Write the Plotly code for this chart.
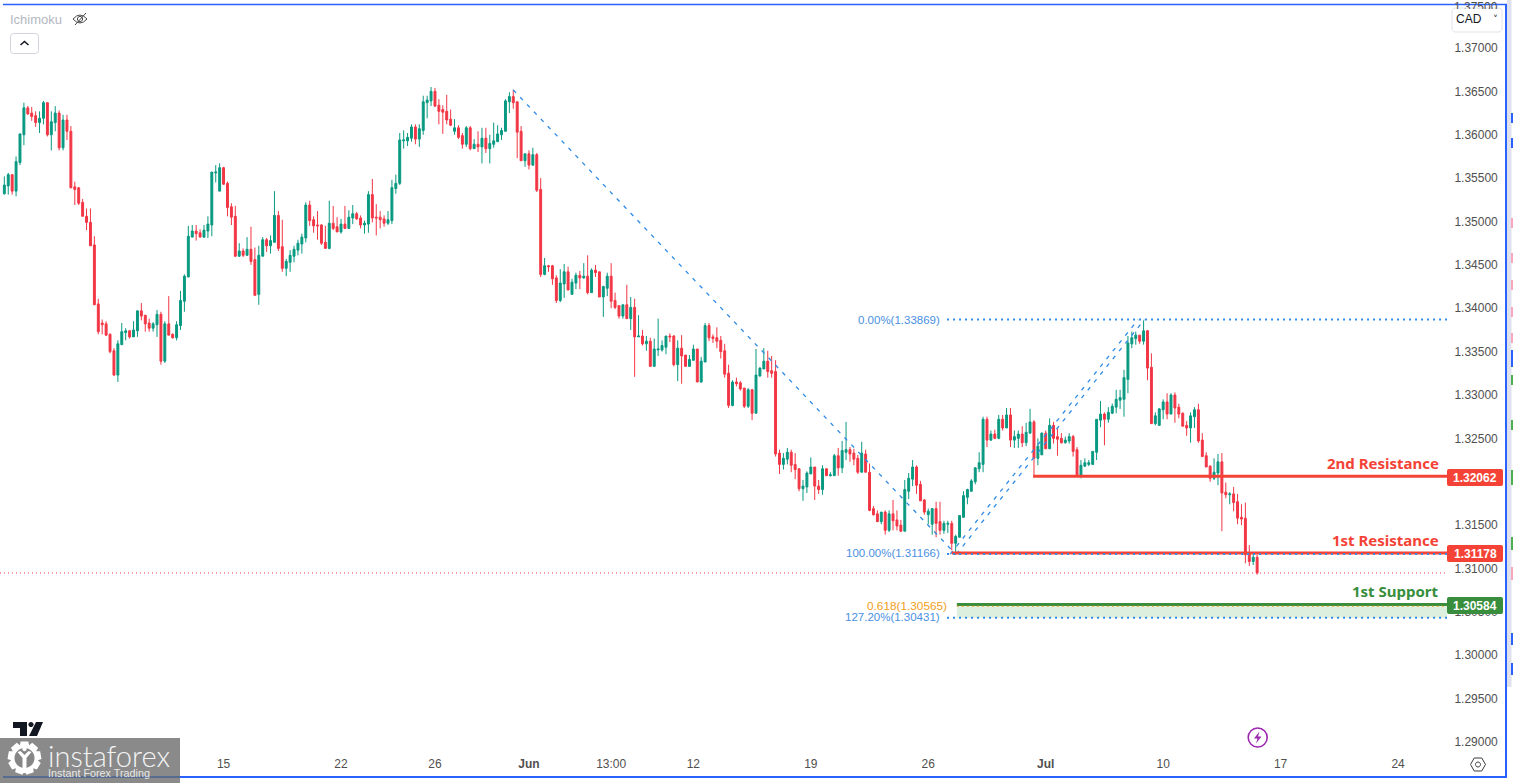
import math
import numpy as np
import plotly.graph_objects as go

# USD/CAD 4H candles, prices in 1/10000 of a CAD
highs = [
13552,13556,13554,13575,13601,13637,13633,13632,13627,13627,
13639,13637,13627,13633,13628,13623,13623,13610,13546,13539,
13526,13515,13515,13483,13411,13387,13385,13371,13354,13363,
13383,13377,13375,13385,13397,13406,13392,13388,13384,13398,
13396,13385,13414,13371,13385,13420,13439,13495,13496,13496,
13491,13496,13506,13557,13565,13567,13563,13546,13521,13518,
13475,13469,13482,13494,13470,13472,13482,13481,13484,13535,
13512,13502,13457,13467,13472,13479,13486,13522,13524,13506,
13512,13497,13495,13524,13518,13505,13503,13518,13513,13519,
13511,13507,13501,13535,13549,13520,13512,13507,13512,13548,
13554,13602,13605,13602,13612,13612,13612,13645,13645,13655,
13654,13641,13634,13646,13629,13618,13611,13602,13610,13610,
13595,13604,13608,13608,13600,13614,13611,13608,13641,13649,
13652,13638,13610,13578,13582,13585,13579,13550,13458,13450,
13450,13438,13445,13451,13448,13434,13441,13443,13452,13461,
13446,13450,13442,13426,13441,13452,13418,13403,13404,13427,
13413,13411,13392,13375,13368,13366,13365,13388,13363,13368,
13371,13369,13363,13369,13346,13346,13358,13353,13344,13383,
13383,13370,13378,13368,13359,13335,13317,13320,13316,13308,
13308,13307,13353,13332,13354,13351,13345,13340,13237,13233,
13239,13237,13233,13215,13202,13212,13228,13217,13202,13219,
13215,13211,13232,13239,13247,13269,13240,13238,13231,13246,
13237,13221,13172,13167,13165,13167,13167,13179,13167,13156,
13202,13210,13225,13219,13201,13180,13169,13169,13177,13177,
13155,13155,13155,13139,13161,13189,13192,13203,13217,13234,
13275,13275,13259,13260,13277,13277,13285,13285,13259,13259,
13264,13268,13284,13271,13250,13257,13259,13273,13269,13262,
13256,13252,13256,13254,13240,13225,13227,13225,13235,13272,
13293,13280,13286,13290,13306,13306,13329,13368,13373,13373,
13369,13386,13375,13348,13280,13285,13295,13302,13302,13303,
13290,13280,13270,13280,13286,13290,13256,13234,13219,13227,
13232,13233,13199,13188,13194,13186,13174,13176,13127,13116,
13116]
body_tops = [
13542,13554,13554,13569,13601,13631,13631,13625,13622,13619,
13637,13637,13615,13625,13625,13617,13617,13604,13540,13539,
13522,13506,13499,13473,13405,13383,13382,13370,13351,13359,
13373,13374,13374,13375,13397,13397,13392,13383,13382,13393,
13393,13382,13382,13370,13381,13409,13437,13483,13489,13489,
13487,13490,13497,13557,13557,13562,13562,13544,13517,13506,
13466,13466,13468,13468,13456,13461,13479,13479,13478,13507,
13507,13471,13454,13461,13468,13475,13482,13519,13519,13502,
13496,13496,13476,13498,13498,13494,13497,13497,13505,13509,
13509,13504,13498,13531,13531,13505,13505,13503,13502,13539,
13544,13594,13594,13597,13609,13609,13607,13638,13640,13650,
13650,13634,13629,13627,13618,13608,13608,13599,13608,13608,
13589,13589,13596,13596,13590,13593,13601,13605,13639,13644,
13644,13638,13604,13578,13578,13577,13577,13537,13449,13449,
13449,13435,13429,13442,13442,13430,13438,13438,13437,13437,
13444,13444,13442,13425,13437,13437,13409,13403,13404,13404,
13401,13401,13368,13368,13362,13362,13353,13353,13357,13368,
13368,13368,13354,13354,13346,13341,13353,13353,13339,13380,
13380,13367,13366,13363,13351,13325,13315,13315,13314,13308,
13306,13306,13323,13331,13339,13339,13328,13327,13233,13227,
13234,13234,13220,13215,13195,13210,13217,13217,13195,13215,
13215,13208,13230,13230,13236,13237,13237,13233,13227,13233,
13232,13211,13169,13163,13165,13165,13163,13163,13156,13150,
13191,13204,13217,13217,13197,13179,13166,13169,13169,13154,
13152,13152,13152,13137,13161,13184,13191,13201,13216,13222,
13272,13272,13255,13255,13272,13272,13277,13277,13252,13255,
13255,13257,13269,13269,13241,13256,13256,13265,13265,13252,
13250,13248,13252,13252,13237,13219,13222,13222,13235,13272,
13278,13278,13280,13287,13295,13297,13320,13360,13366,13369,
13369,13374,13374,13332,13276,13284,13292,13292,13300,13300,
13286,13279,13265,13276,13283,13283,13248,13230,13218,13211,
13223,13223,13188,13186,13186,13177,13159,13158,13117,13113,
13113]
body_bottoms = [
13532,13541,13535,13535,13568,13600,13624,13621,13614,13614,
13619,13600,13600,13614,13585,13585,13604,13539,13537,13521,
13506,13499,13472,13404,13373,13381,13369,13350,13323,13323,
13358,13372,13367,13367,13374,13391,13382,13377,13377,13381,
13339,13339,13369,13366,13366,13380,13408,13436,13482,13486,
13482,13482,13489,13496,13556,13535,13543,13516,13505,13460,
13460,13461,13461,13454,13415,13416,13460,13472,13472,13476,
13469,13446,13446,13453,13460,13467,13474,13481,13501,13495,
13495,13475,13469,13469,13492,13488,13488,13492,13492,13504,
13503,13496,13496,13497,13504,13504,13502,13498,13498,13501,
13538,13544,13593,13593,13596,13595,13595,13605,13637,13639,
13633,13627,13626,13617,13611,13604,13597,13589,13589,13584,
13584,13586,13586,13584,13584,13589,13592,13600,13604,13638,
13637,13603,13570,13570,13565,13565,13536,13439,13439,13448,
13434,13409,13409,13428,13421,13416,13429,13435,13435,13418,
13418,13441,13413,13413,13423,13408,13401,13391,13391,13388,
13388,13367,13367,13359,13359,13333,13333,13352,13352,13355,
13367,13335,13335,13345,13333,13333,13340,13315,13315,13338,
13366,13365,13362,13350,13324,13288,13288,13313,13307,13287,
13287,13279,13279,13322,13330,13327,13325,13232,13220,13220,
13226,13219,13214,13192,13192,13194,13209,13195,13191,13191,
13207,13207,13207,13216,13216,13234,13232,13226,13211,13211,
13211,13167,13162,13154,13154,13144,13144,13155,13149,13143,
13143,13189,13203,13196,13178,13165,13162,13151,13152,13144,
13144,13151,13129,13129,13136,13159,13182,13189,13200,13215,
13220,13248,13248,13250,13250,13262,13262,13248,13248,13250,
13245,13245,13256,13227,13227,13231,13238,13238,13250,13249,
13245,13245,13247,13235,13207,13206,13218,13220,13220,13234,
13271,13272,13272,13279,13286,13294,13295,13318,13359,13365,
13362,13362,13331,13267,13267,13265,13283,13278,13278,13285,
13278,13264,13262,13262,13275,13247,13229,13217,13204,13204,
13210,13187,13185,13185,13176,13158,13157,13116,13108,13108,
13095]
lows = [
13531,13531,13531,13529,13565,13588,13623,13616,13609,13602,
13612,13598,13582,13604,13582,13582,13594,13538,13519,13519,
13506,13490,13472,13404,13370,13370,13368,13348,13322,13315,
13358,13363,13365,13367,13367,13386,13373,13373,13373,13367,
13335,13337,13369,13365,13363,13375,13396,13436,13482,13478,
13482,13481,13481,13483,13545,13535,13542,13506,13496,13459,
13459,13459,13461,13450,13414,13404,13460,13465,13463,13476,
13466,13442,13437,13442,13453,13461,13463,13476,13495,13487,
13479,13473,13469,13468,13490,13488,13486,13492,13492,13497,
13502,13492,13486,13487,13499,13484,13492,13494,13496,13497,
13532,13542,13584,13587,13592,13589,13586,13600,13619,13633,
13632,13612,13601,13612,13610,13600,13595,13584,13586,13582,
13584,13580,13567,13579,13567,13585,13592,13594,13604,13625,
13630,13573,13570,13563,13560,13564,13534,13436,13438,13442,
13427,13406,13407,13412,13421,13416,13422,13422,13434,13416,
13418,13436,13413,13390,13414,13400,13399,13388,13388,13388,
13375,13321,13367,13357,13351,13333,13333,13345,13350,13347,
13361,13333,13316,13313,13333,13333,13340,13315,13314,13338,
13362,13360,13354,13342,13320,13285,13287,13310,13305,13285,
13285,13271,13279,13321,13330,13320,13320,13229,13209,13214,
13220,13211,13203,13189,13178,13187,13209,13179,13186,13185,
13207,13206,13207,13207,13210,13225,13223,13219,13209,13211,
13211,13166,13161,13154,13151,13139,13142,13144,13144,13142,
13143,13180,13195,13186,13178,13162,13151,13139,13136,13139,
13140,13141,13121,13116,13136,13159,13174,13189,13197,13211,
13211,13240,13247,13249,13249,13259,13262,13240,13239,13239,
13240,13241,13256,13205,13219,13231,13238,13238,13244,13230,
13244,13244,13244,13229,13205,13204,13217,13218,13220,13225,
13263,13242,13268,13278,13279,13284,13275,13302,13354,13358,
13359,13358,13317,13267,13265,13265,13272,13272,13278,13268,
13273,13264,13253,13245,13262,13245,13229,13217,13200,13202,
13196,13143,13181,13174,13166,13151,13150,13106,13103,13104,
13093]
directions = ("GGRGGGRRRG GRGGRGRRRR RRRRRRRRRG GGRGGRRRGG RGRRGGGGGR "
              "RGGGGGRRRR GRGRRGGRGG RRGGGGGGRR RRRGRRGRGG RRGGRRRRGG "
              "GGGGGRGGGG RRRRRGRRGR GRGRGGGGGG RRRGRGRRGR RRGGRGGRGR "
              "GRRGGRRRGR GRGRGRGGGG RRGRRGGRGG RRRRRRGRRR GRGGGRRRRG "
              "GRRRGGGRRG RGGRGGRRRG RRRRGRGRRR GGGRRRGGRR GGRGGGGGGG "
              "GRGRGRGRGG RGGRGGRGRR RGGRRGGGGG GRGGGGGGGG RGRRGGGRGR "
              "RRRGGRRRRG GRRGRRRRRG R").replace(" ", "")

tick_positions_x = [26, 56, 86, 110, 134, 155, 176, 206, 236, 266, 296, 326, 356]
tick_labels_x = ["8", "15", "22", "26", "<b>Jun</b>", "13:00", "12", "19", "26", "<b>Jul</b>", "10", "17", "24"]
tick_prices = [1.29, 1.295, 1.30, 1.305, 1.31, 1.315, 1.32, 1.325, 1.33, 1.335, 1.34,
               1.345, 1.35, 1.355, 1.36, 1.365, 1.37]

# drawing tools: levels and anchors
last_price = 1.30948
res2_price, res1_price, sup1_price = 1.32062, 1.31178, 1.30584
fib_0, fib_100, fib_1272, fib_618 = 1.33869, 1.31166, 1.30431, 1.30565
level_end = 368.5
res2_start, res1_start, sup1_start, fib_start = 262.8, 242.0, 243.3, 240.8
down_x, down_y = [130.0, 243.0], [1.36516, 1.31166]
up1_x, up1_y = [241.6, 289.6], [1.31166, 1.33869]
up2_x, up2_y = [243.2, 291.2], [1.31166, 1.33869]

W, H = 1516, 783
RED, GREEN = "#f23645", "#089981"
LVL_RED, LVL_GREEN = "#f44336", "#388e3c"
BLUE, ORANGE, TXT = "#2f8be6", "#f0a020", "#505050"
FONT = "Liberation Sans"

idx = list(range(len(highs)))
up = np.array([d == "G" for d in directions])
tops, bots = np.array(body_tops) / 1e4, np.array(body_bottoms) / 1e4
opens = np.where(up, bots, tops)
closes = np.where(up, tops, bots)

fig = go.Figure()
fig.add_trace(go.Candlestick(
    x=idx, open=opens, high=np.array(highs) / 1e4, low=np.array(lows) / 1e4, close=closes,
    increasing=dict(line=dict(color=GREEN, width=1), fillcolor=GREEN),
    decreasing=dict(line=dict(color=RED, width=1), fillcolor=RED),
    whiskerwidth=0, showlegend=False))


def seg(xs, ys, color, width, dash="solid"):
    fig.add_trace(go.Scatter(x=xs, y=ys, mode="lines", showlegend=False, hoverinfo="skip",
                             line=dict(color=color, width=width, dash=dash)))


DOT = "2px,4px"
DASH = "4px,6px"
seg(down_x, down_y, BLUE, 1.3, DASH)
seg(up1_x, up1_y, BLUE, 1.3, DASH)
seg(up2_x, up2_y, BLUE, 1.3, DASH)
seg([res2_start, level_end], [res2_price] * 2, LVL_RED, 3)
seg([res1_start, level_end], [res1_price] * 2, LVL_RED, 3)
seg([sup1_start, level_end], [sup1_price] * 2, LVL_GREEN, 3)
seg([sup1_start, level_end], [fib_618] * 2, ORANGE, 1, "2px,3px")
for lvl in (fib_0, fib_100, fib_1272):
    seg([fib_start, level_end], [lvl] * 2, BLUE, 2, DOT)


def px(x):
    return x / W


def py(y):
    return 1 - y / H


def path(*items):
    out = []
    for it in items:
        if isinstance(it, str):
            out.append(it)
        else:
            out.append(f"{px(it[0]):.5f},{py(it[1]):.5f}")
    return " ".join(out)


def rrect(x0, y0, x1, y1, r=2):
    return path("M", (x0 + r, y0), "L", (x1 - r, y0), "Q", (x1, y0), (x1, y0 + r),
                "L", (x1, y1 - r), "Q", (x1, y1), (x1 - r, y1),
                "L", (x0 + r, y1), "Q", (x0, y1), (x0, y1 - r),
                "L", (x0, y0 + r), "Q", (x0, y0), (x0 + r, y0), "Z")


def circle_path(cx, cy, r):
    return path("M", (cx - r, cy), "C", (cx - r, cy - r * .55), (cx - r * .55, cy - r), (cx, cy - r),
                "C", (cx + r * .55, cy - r), (cx + r, cy - r * .55), (cx + r, cy),
                "C", (cx + r, cy + r * .55), (cx + r * .55, cy + r), (cx, cy + r),
                "C", (cx - r * .55, cy + r), (cx - r, cy + r * .55), (cx - r, cy), "Z")


shapes = []


def add_path(d, fill=None, line=None, lw=1, **kw):
    shapes.append(dict(type="path", xref="paper", yref="paper", path=d,
                       fillcolor=fill or "rgba(0,0,0,0)",
                       line=dict(color=line or "rgba(0,0,0,0)", width=lw if line else 0), **kw))


def add_rect(x0, y0, x1, y1, fill, **kw):
    shapes.append(dict(type="rect", xref="paper", yref="paper", x0=px(x0), x1=px(x1), y0=py(y0), y1=py(y1),
                       fillcolor=fill, line=dict(width=0), **kw))


# under the candles
shapes.append(dict(type="line", xref="x", yref="y", x0=-1.1, x1=level_end, y0=last_price, y1=last_price,
                   line=dict(color=RED, width=1, dash="1px,3px"), layer="below"))
shapes.append(dict(type="rect", xref="x", yref="y", x0=sup1_start, x1=level_end, y0=fib_1272, y1=fib_618,
                   fillcolor="#ddefdf", line=dict(width=0), layer="below"))

# window frame and neighbouring strip
add_rect(1507, 0, 1511.5, 687, "#dfe1ec")
for y0, y1, c in [(113, 123, "#2962ff"), (138, 148, "#2962ff"), (218, 228, "#f7a8bd"), (253, 263, "#f7a8bd"),
                  (280, 290, "#f7a8bd"), (307, 317, "#f7a8bd"), (333, 343, "#f7a8bd"), (350, 367, "#2962ff"),
                  (375, 385, "#4caf50"), (420, 430, "#4caf50"), (470, 485, "#4caf50"), (537, 550, "#4caf50"),
                  (567, 580, "#f7a8bd"), (633, 645, "#2962ff"), (663, 675, "#2962ff")]:
    add_rect(1511, y0, 1513, y1, c)
shapes.append(dict(type="line", xref="paper", yref="paper", x0=px(3), x1=px(1507), y0=py(4.5), y1=py(4.5),
                   line=dict(color="#2962ff", width=1.5)))
shapes.append(dict(type="line", xref="paper", yref="paper", x0=px(1506), x1=px(1506), y0=py(4), y1=py(778),
                   line=dict(color="#2962ff", width=2)))

# price boxes
add_path(rrect(1447, 469, 1503, 486), LVL_RED)
add_path(rrect(1447, 545, 1503, 562), LVL_RED)
add_path(rrect(1447, 597, 1503, 614), LVL_GREEN)

# currency selector border
add_path(rrect(1452, 8, 1502, 32, 4), "#ffffff", "#e0e3eb", 1)

# collapse button
add_path(rrect(10.5, 33.5, 38.5, 53.5, 3), "#ffffff", "#d1d4dc", 1)
add_path(path("M", (20.5, 45), "L", (24.5, 41.5), "L", (28.5, 45)), None, "#131722", 1.5)

# hidden-eye icon
add_path(path("M", (73, 19), "Q", (80, 11), (87, 19), "Q", (80, 27), (73, 19), "Z"), None, "#4a4a4a", 1)
add_path(circle_path(80, 19, 2.6), None, "#4a4a4a", 1)
add_path(path("M", (75, 25), "L", (86, 13)), None, "#4a4a4a", 1)

# settings icon
hexagon = [(1478 + 7.5 * math.cos(math.radians(a)), 764.5 + 7.5 * math.sin(math.radians(a))) for a in range(0, 360, 60)]
hex_items = ["M", hexagon[0]]
for p in hexagon[1:]:
    hex_items += ["L", p]
hex_items.append("Z")
add_path(path(*hex_items), None, "#3c3c3c", 1)
add_path(circle_path(1478, 764.5, 2.5), None, "#3c3c3c", 1)

# lightning icon
add_path(circle_path(1257.7, 737.5, 9.5), None, "#9c27b0", 1.6)
add_path(path("M", (1259.5, 731.5), "L", (1254, 738.5), "L", (1257.5, 738.5), "L", (1256, 743.5),
              "L", (1261.5, 736.5), "L", (1258, 736.5), "Z"), "#9c27b0")

# TradingView mark
add_path(path("M", (13, 722), "L", (27, 722), "L", (27, 736), "L", (20, 736), "L", (20, 728), "L", (13, 728), "Z"), "#131722")
add_path(circle_path(31, 724.5, 2.6), "#131722")
add_path(path("M", (36, 722), "L", (43, 722), "L", (37, 736), "L", (29, 736), "Z"), "#131722")

# watermark
add_rect(0, 738, 180, 783, "#868686", opacity=0.97)
cx, cy = 24.5, 758
pts = ["M"]
n = 9
first = True
for k in range(n):
    for da, r in [(-13, 17), (13, 17), (20, 13.5)]:
        a = math.radians(k * 360 / n + da - 90)
        pt = (cx + r * math.cos(a), cy + r * math.sin(a))
        if first:
            pts.append(pt)
            first = False
        else:
            pts += ["L", pt]
pts.append("Z")
add_path(path(*pts), "#ffffff")
add_path(circle_path(cx, cy, 10), "#868686")
add_path(path("M", (cx - 7, cy - 6), "L", (cx - 2, cy), "L", (cx - 2, cy + 15), "L", (cx + 2, cy + 15), "L", (cx + 2, cy),
              "L", (cx + 7, cy - 6), "L", (cx + 4, cy - 7), "L", (cx, cy - 3), "L", (cx - 4, cy - 7), "Z"), "#ffffff")
add_path(circle_path(cx, cy - 9, 2.2), "#ffffff")
shapes.append(dict(type="line", xref="paper", yref="paper", x0=px(180), x1=px(1507), y0=py(777), y1=py(777),
                   line=dict(color="#2962ff", width=2)))
shapes.append(dict(type="line", xref="paper", yref="paper", x0=px(3), x1=px(180), y0=py(777), y1=py(777),
                   line=dict(color="#46608f", width=1.5)))

annotations = []


def label(text, x, y, color, size=12, anchor="right", family=FONT, weight=None, **kw):
    font = dict(color=color, size=size, family=family)
    if weight:
        font["weight"] = weight
    annotations.append(dict(text=text, xref="paper", yref="paper", x=px(x), y=py(y), xanchor=anchor, yanchor="middle",
                            showarrow=False, font=font, borderpad=0, borderwidth=0, **kw))


label("0.00%(1.33869)", 940, 320, "#4a90e2", 11.5)
label("100.00%(1.31166)", 940, 553, "#4a90e2", 11.5)
label("127.20%(1.30431)", 940, 617, "#4a90e2", 11.5)
label("0.618(1.30565)", 947, 606, ORANGE, 11.8)
label("<b>2nd Resistance</b>", 1439, 463, LVL_RED, 15, family="Noto Sans")
label("<b>1st Resistance</b>", 1439, 540, LVL_RED, 15, family="Noto Sans")
label("<b>1st Support</b>", 1439, 591, LVL_GREEN, 15, family="Noto Sans")
label("<b>1.32062</b>", 1475, 477.5, "#ffffff", 12, "center")
label("<b>1.31178</b>", 1475, 553.5, "#ffffff", 12, "center")
label("<b>1.30584</b>", 1475, 605.5, "#ffffff", 12, "center")
# top price label, mostly hidden by the currency selector drawn after it
label("1.37500", 1454, 7.5, TXT, 12, "left")
label(" ", 1477, 20, "#ffffff", 10, "center", bgcolor="#ffffff", width=48, height=22)
label("CAD", 1456, 19.5, "#131722", 12, "left")
label("˅", 1495, 19, "#333333", 10, "center", family="DejaVu Sans")
label("Ichimoku", 10, 19, "#b4b7bf", 13, "left")
label("instaforex", 48, 755, "#f4f4f4", 29, "left", family="Lato", weight=300)
label("Instant Forex Trading", 48, 773, "#e8e8e8", 10.8, "left")

fig.update_layout(
    width=W, height=H, margin=dict(l=0, r=0, t=0, b=0), paper_bgcolor="#ffffff", plot_bgcolor="#ffffff",
    showlegend=False, boxgap=0.3, hovermode=False, font=dict(family=FONT, size=12, color=TXT),
    shapes=shapes, annotations=annotations,
    xaxis=dict(domain=[0, 1447 / W], range=[-1.106, level_end], rangeslider=dict(visible=False),
               showgrid=False, zeroline=False, showline=False,
               tickmode="array", tickvals=tick_positions_x, ticktext=tick_labels_x,
               ticks="outside", ticklen=1, tickcolor="#ffffff", tickfont=dict(size=12, color=TXT, family=FONT)),
    yaxis=dict(domain=[31 / H, 779 / H], range=[1.288847, 1.375072], side="right",
               showgrid=False, zeroline=False, showline=False,
               tickmode="array", tickvals=tick_prices, ticktext=[f"{v:.5f}" for v in tick_prices],
               ticks="outside", ticklen=4, tickcolor="#ffffff", tickfont=dict(size=12, color=TXT, family=FONT)),
)

fig.write_html("out.html", config={"displayModeBar": False},
               post_script="document.body.style.margin='0';")
